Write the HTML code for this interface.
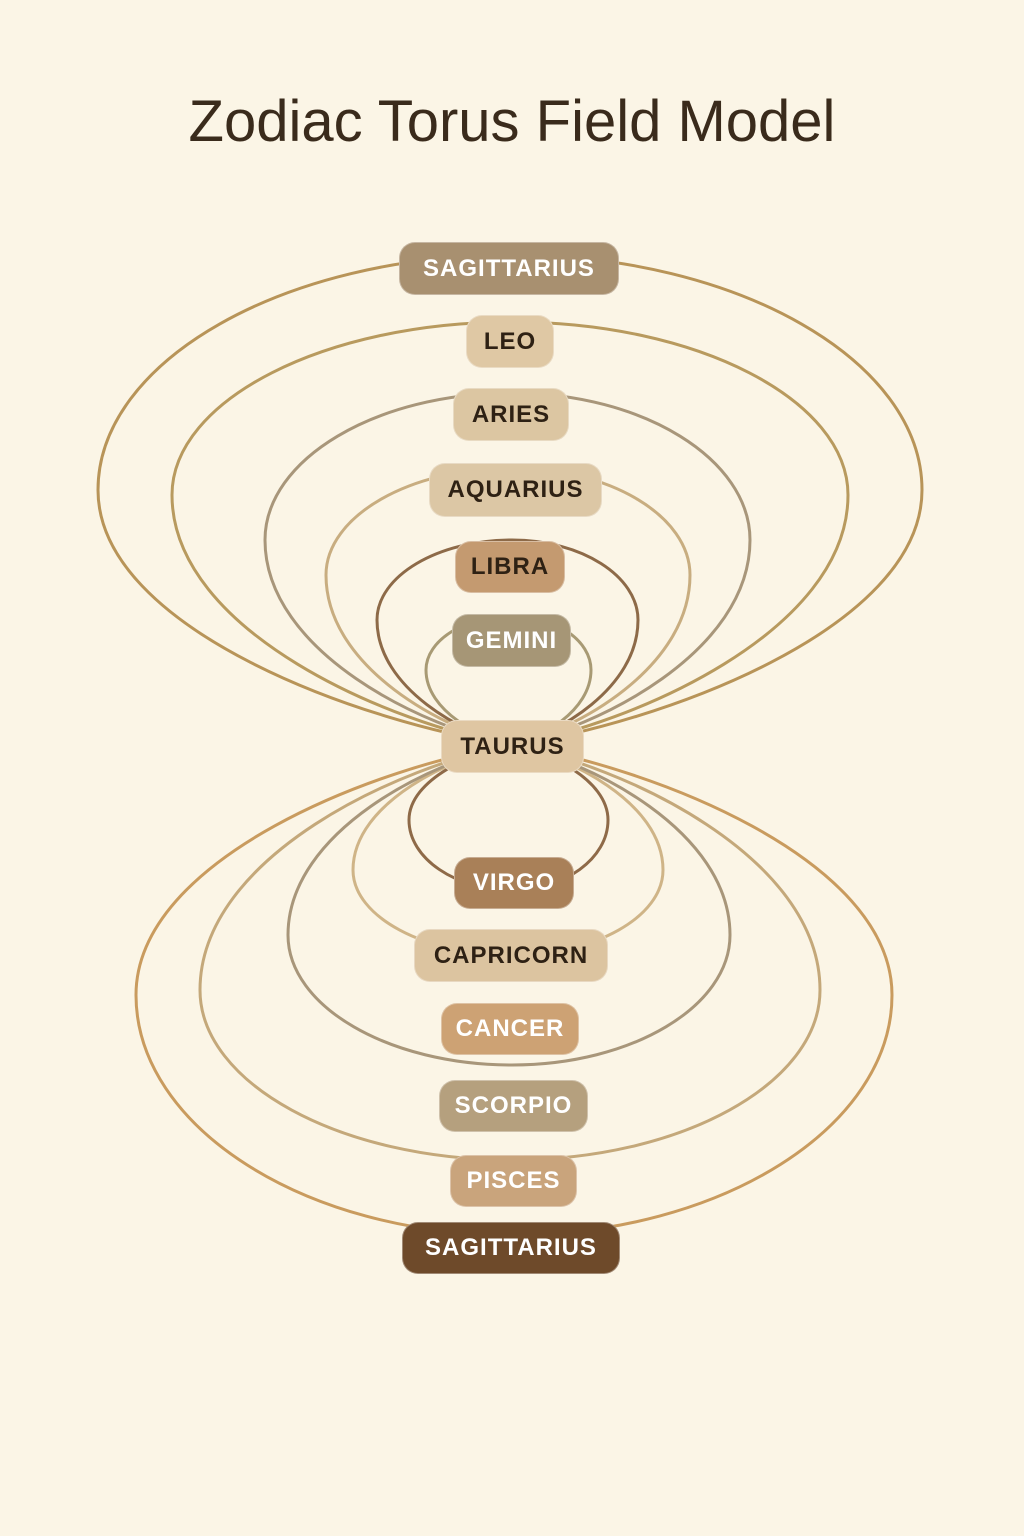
<!DOCTYPE html>
<html><head><meta charset="utf-8"><style>
body{margin:0;width:1024px;height:1536px;background:#fbf5e6;font-family:"Liberation Sans","DejaVu Sans",sans-serif;position:relative;overflow:hidden}
h1{position:absolute;top:88px;left:0;width:1024px;text-align:center;margin:0;font-size:58px;font-weight:normal;color:#3a2b1c;letter-spacing:0}
.l{position:absolute;border-radius:16px;display:flex;align-items:center;justify-content:center;font-weight:bold;font-size:24px;letter-spacing:1px;box-sizing:border-box;border:1.5px solid rgba(255,255,255,.35)}
.w{color:#fff}.d{color:#2e2114}
svg{position:absolute;left:0;top:0}
</style></head><body>
<h1>Zodiac Torus Field Model</h1>
<svg width="1024" height="1536" id="s"></svg>
<script>
var C=[512,745];
var loops=[
[255,98,922,490,"#b89458"],[322,172,848,495,"#b89a5e"],[393,265,750,540,"#a8967a"],[468,326,690,575,"#c8ad80"],[540,377,638,620,"#8d6a48"],[616,426,591,670,"#a89a74"],
[890,409,608,820,"#8e6a48"],[955,353,663,870,"#cfb487"],[1065,288,730,935,"#a8967a"],[1160,200,820,990,"#c4a87a"],[1235,136,892,995,"#c99b5e"]];
var h="";
loops.forEach(function(a){var yt=a[0],xl=a[1],xr=a[2],yw=a[3],c=a[4];
var cx=C[0],cy=C[1];
function seg(x){return "C "+(cx-0.35*(cx-x))+" "+(cy+(yw-cy)*0.08)+" "+x+" "+(yw+0.55*(cy-yw))+" "+x+" "+yw+" C "+x+" "+(yw-0.55*(yw-yt))+" "+(cx-0.55*(cx-x))+" "+yt+" "+cx+" "+yt;}
var left=seg(xl);
var dR="C "+(cx+0.55*(xr-cx))+" "+yt+" "+xr+" "+(yw-0.55*(yw-yt))+" "+xr+" "+yw+" C "+xr+" "+(yw+0.55*(cy-yw))+" "+(cx+0.35*(xr-cx))+" "+(cy+(yw-cy)*0.08)+" "+cx+" "+cy;
h+='<path d="M '+cx+' '+cy+' '+left+' '+dR+'" fill="none" stroke="'+c+'" stroke-width="3"/>';});
document.getElementById("s").innerHTML=h;
</script>
<div class="l w" style="left:399px;top:242px;width:220px;height:53px;background:#a89070">SAGITTARIUS</div>
<div class="l d" style="left:466px;top:315px;width:88px;height:53px;background:#dfc8a4">LEO</div>
<div class="l d" style="left:453px;top:388px;width:116px;height:53px;background:#dcc6a2">ARIES</div>
<div class="l d" style="left:429px;top:463px;width:173px;height:54px;background:#dcc7a5">AQUARIUS</div>
<div class="l d" style="left:455px;top:541px;width:110px;height:52px;background:#c49a70">LIBRA</div>
<div class="l w" style="left:452px;top:614px;width:119px;height:53px;background:#a69676">GEMINI</div>
<div class="l d" style="left:441px;top:720px;width:143px;height:53px;background:#dfc6a2">TAURUS</div>
<div class="l w" style="left:454px;top:857px;width:120px;height:52px;background:#a98058">VIRGO</div>
<div class="l d" style="left:414px;top:929px;width:194px;height:53px;background:#dcc4a0">CAPRICORN</div>
<div class="l w" style="left:441px;top:1003px;width:138px;height:52px;background:#cda274">CANCER</div>
<div class="l w" style="left:439px;top:1080px;width:149px;height:52px;background:#b5a07e">SCORPIO</div>
<div class="l w" style="left:450px;top:1155px;width:127px;height:52px;background:#c9a47c">PISCES</div>
<div class="l w" style="left:402px;top:1222px;width:218px;height:52px;background:#6e4a2a">SAGITTARIUS</div>
</body></html>
